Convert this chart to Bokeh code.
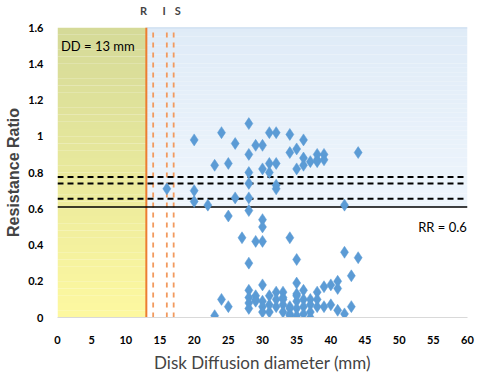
import numpy as np
from bokeh.plotting import figure
from bokeh.models import FixedTicker, Label, Range1d, LinearAxis
from bokeh.embed import file_html
from bokeh.resources import INLINE

# ---------------- data ----------------
disk_mm = [20, 24, 26, 28, 28, 23, 25, 29, 30, 31, 32, 34, 36, 34, 35, 30, 31, 32, 35, 36,
           36, 37, 38, 38, 39, 38, 39, 44, 28, 31, 20, 16, 20, 22, 26, 28, 28, 32, 32, 42,
           25, 28, 30, 30, 27, 29, 30, 34, 28, 35, 42, 44, 43, 41, 41, 39, 38, 35, 36, 28,
           30, 32, 24, 25, 23, 28, 28, 28, 29, 29, 30, 30, 30, 31, 31, 32, 33, 33, 33, 33,
           34, 34, 35, 35, 35, 36, 37, 37, 34, 36, 37, 34, 35, 37, 38, 39, 40, 41, 42, 43,
           36, 38, 32, 31, 35, 29, 40, 33]
resistance_ratio = [0.98, 1.02, 0.96, 1.07, 0.90, 0.84, 0.85, 0.95, 0.95, 1.02, 1.02, 1.01, 0.98, 0.91, 0.93, 0.82, 0.85, 0.85, 0.82, 0.88,
                    0.84, 0.86, 0.87, 0.90, 0.90, 0.86, 0.87, 0.91, 0.80, 0.80, 0.70, 0.71, 0.64, 0.62, 0.66, 0.74, 0.66, 0.73, 0.71, 0.62,
                    0.56, 0.59, 0.54, 0.50, 0.44, 0.42, 0.42, 0.44, 0.30, 0.32, 0.36, 0.33, 0.23, 0.20, 0.16, 0.17, 0.14, 0.19, 0.15, 0.15,
                    0.18, 0.14, 0.10, 0.06, 0.01, 0.11, 0.08, 0.05, 0.12, 0.10, 0.09, 0.06, 0.03, 0.12, 0.03, 0.06, 0.14, 0.11, 0.07, 0.03,
                    0.05, 0.02, 0.13, 0.09, 0.05, 0.10, 0.10, 0.07, 0.06, 0.06, 0.03, 0.01, 0.01, 0.00, 0.06, 0.06, 0.07, 0.04, 0.02, 0.06,
                    0.02, 0.10, 0.10, 0.07, 0.12, 0.09, 0.18, 0.10]

dd_breakpoint = 13          # solid orange line
ris_lines = [14, 16, 17]    # dashed orange lines
ris_labels = ["R", "I", "S"]
ris_label_x = [12.6, 15.6, 17.6]
rr_solid = 0.61
rr_dashed = [0.655, 0.74, 0.775]

x_ticks = [0, 5, 10, 15, 20, 25, 30, 35, 40, 45, 50, 55, 60]
y_ticks = [0, 0.2, 0.4, 0.6, 0.8, 1.0, 1.2, 1.4, 1.6]
y_tick_labels = ["0", "0.2", "0.4", "0.6", "0.8", "1", "1.2", "1.4", "1.6"]

# ---------------- figure ----------------
p = figure(frame_width=410, frame_height=290, output_backend="svg", toolbar_location=None,
           x_range=Range1d(0, 60), y_range=Range1d(0, 1.6),
           min_border_left=57, min_border_right=9, min_border_top=27, min_border_bottom=68)
p.outline_line_color = None
p.xgrid.visible = False
p.ygrid.visible = False
p.background_fill_color = "white"


def lerp(c1, c2, t):
    return "#%02x%02x%02x" % tuple(int(round(a + (b - a) * t)) for a, b in zip(c1, c2))


# yellow gradient band (x 0..13)
n = 40
edges = np.linspace(0, 1.6, n + 1)
top_y, bot_y = (212, 217, 152), (253, 248, 160)
p.quad(left=0, right=dd_breakpoint, bottom=edges[:-1], top=edges[1:],
       fill_color=[lerp(bot_y, top_y, (e / 1.6)) for e in edges[:-1]], line_color=None)

# blue gradient band (x 13..60, above RR line)
edges_b = np.linspace(rr_solid, 1.6, n + 1)
top_b, bot_b = (223, 235, 247), (238, 245, 252)
p.quad(left=dd_breakpoint, right=60, bottom=edges_b[:-1], top=edges_b[1:],
       fill_color=[lerp(bot_b, top_b, (e - rr_solid) / (1.6 - rr_solid)) for e in edges_b[:-1]],
       line_color=None)
p.line([dd_breakpoint, 60], [1.6, 1.6], line_color="#b7cfe9", line_width=1.5)

# vertical lines
p.line([dd_breakpoint, dd_breakpoint], [0, 1.6], line_color="#ed7d31", line_width=2)
for xv in ris_lines:
    p.line([xv, xv], [0, 1.6], line_color="#f29a5e", line_width=1.8, line_dash="5 5")

# horizontal lines
p.line([0, 60], [rr_solid, rr_solid], line_color="black", line_width=1.5)
for yv in rr_dashed:
    p.line([0, 60], [yv, yv], line_color="black", line_width=2, line_dash="6 4")

# scatter
p.scatter(disk_mm, resistance_ratio, marker="diamond", size=12,
          fill_color="#5b9bd5", line_color="#5b9bd5", line_width=0.5)

# texts
font = "Lato"
p.add_layout(Label(x=0.5, y=1.5, text="DD = 13 mm", text_font=font, text_font_size="13px",
                   text_baseline="middle", text_color="black"))
p.add_layout(Label(x=59.9, y=0.5, text="RR = 0.6", text_font=font, text_font_size="13px",
                   text_align="right", text_baseline="middle", text_color="black"))

# bottom / left axes
xax = p.below[0]
yax = p.left[0]
xax.ticker = FixedTicker(ticks=x_ticks)
yax.ticker = FixedTicker(ticks=y_ticks)
yax.major_label_overrides = {t: l for t, l in zip(y_ticks, y_tick_labels)}
for ax in (xax, yax):
    ax.major_tick_line_color = None
    ax.minor_tick_line_color = None
    ax.major_label_text_font = font
    ax.major_label_text_font_style = "bold"
    ax.major_label_text_font_size = "11px"
    ax.major_label_text_color = "black"
xax.axis_line_color = "#d9d9d9"
yax.axis_line_color = None
xax.major_label_standoff = 12
yax.major_label_standoff = 8

xax.axis_label = "Disk Diffusion diameter (mm)"
xax.axis_label_text_font = font
xax.axis_label_text_font_style = "normal"
xax.axis_label_text_font_size = "17px"
xax.axis_label_standoff = 5
yax.axis_label = "Resistance Ratio"
yax.axis_label_text_font = "Liberation Sans"
yax.axis_label_text_font_style = "bold"
yax.axis_label_text_font_size = "16px"
yax.axis_label_standoff = 3

# R / I / S labels above the frame, via an extra axis
top_axis = LinearAxis(ticker=FixedTicker(ticks=ris_label_x),
                      major_label_overrides={t: l for t, l in zip(ris_label_x, ris_labels)})
top_axis.axis_line_color = None
top_axis.major_tick_line_color = None
top_axis.minor_tick_line_color = None
top_axis.major_label_text_font = font
top_axis.major_label_text_font_style = "bold"
top_axis.major_label_text_font_size = "11px"
top_axis.major_label_standoff = 5
p.add_layout(top_axis, "above")

open("out.html", "w").write(file_html(p, INLINE))
